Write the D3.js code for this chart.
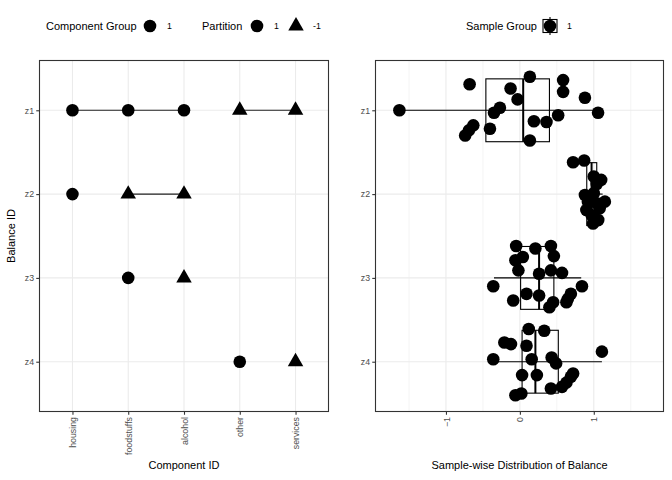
<!DOCTYPE html>
<html>
<head>
<meta charset="utf-8">
<script src="https://cdn.jsdelivr.net/npm/d3@7"></script>
<style>
  html, body { margin: 0; padding: 0; background: #ffffff; }
  svg { display: block; font-family: "Liberation Sans", Arial, Helvetica, sans-serif; }
</style>
</head>
<body>
<svg id="chart" width="672" height="480"></svg>
<script>
// ---------------- data ----------------
const components = ["housing", "foodstuffs", "alcohol", "other", "services"];
const balances = ["z1", "z2", "z3", "z4"];

// Left panel: partition of components per balance
const partBalance   = ["z1","z1","z1","z1","z1","z2","z2","z2","z3","z3","z4","z4"];
const partComponent = ["housing","foodstuffs","alcohol","other","services",
                       "housing","foodstuffs","alcohol",
                       "foodstuffs","alcohol",
                       "other","services"];
const partSign      = [1,1,1,-1,-1, 1,-1,-1, 1,-1, 1,-1];

// Right panel: sample-wise balance values (value, jitter offset in category units)
const sampleBalance = [
  "z1","z1","z1","z1","z1","z1","z1","z1","z1","z1","z1","z1","z1","z1","z1","z1","z1","z1","z1",
  "z2","z2","z2","z2","z2","z2","z2","z2","z2","z2","z2","z2","z2","z2","z2",
  "z3","z3","z3","z3","z3","z3","z3","z3","z3","z3","z3","z3","z3","z3","z3","z3","z3","z3","z3","z3",
  "z4","z4","z4","z4","z4","z4","z4","z4","z4","z4","z4","z4","z4","z4","z4","z4","z4","z4","z4"
];
const sampleValue = [
  -1.63,-0.68,0.135,0.585,0.585,0.88,-0.126,-0.031,-0.27,-0.35,1.058,0.518,0.19,0.36,-0.63,-0.74,-0.69,-0.405,0.135,
  0.72,0.87,1.00,1.10,1.04,0.88,1.00,1.15,0.90,1.08,0.99,0.97,1.04,0.92,1.06,
  -0.05,0.21,0.42,-0.06,0.04,0.46,-0.02,0.26,0.42,0.57,-0.36,0.84,0.09,0.26,-0.09,0.45,0.40,0.65,0.69,0.63,
  0.12,0.33,-0.21,-0.12,0.09,-0.36,1.11,0.16,0.43,0.49,0.03,0.23,0.69,0.63,0.57,0.42,-0.06,0.02,0.72
];
const sampleJitter = [
  0.00,-0.31,-0.40,-0.36,-0.22,-0.15,-0.26,-0.13,-0.03,0.03,0.03,0.06,0.13,0.14,0.18,0.30,0.24,0.22,0.36,
  -0.38,-0.40,-0.21,-0.17,-0.12,0.01,-0.01,0.09,0.19,0.17,0.35,0.25,0.11,0.09,0.31,
  -0.38,-0.35,-0.38,-0.21,-0.25,-0.26,-0.09,-0.05,-0.09,-0.06,0.10,0.10,0.19,0.21,0.27,0.29,0.35,0.25,0.19,0.29,
  -0.39,-0.37,-0.23,-0.21,-0.19,-0.03,-0.12,-0.03,-0.05,0.02,0.16,0.16,0.18,0.25,0.30,0.32,0.40,0.38,0.14
];

// Box summaries
const boxLow    = [-1.63, 0.80, -0.35, -0.36];
const boxQ1     = [-0.46, 0.905, 0.01, 0.03];
const boxMedian = [0.045, 0.97, 0.26, 0.21];
const boxQ3     = [0.40, 1.04, 0.46, 0.52];
const boxHigh   = [1.06, 1.12, 0.83, 1.11];

const xTicksRight = [-1, 0, 1];
const xMinorRight = [-1.5, -0.5, 0.5, 1.5];

// ---------------- layout ----------------
const svg = d3.select("#chart");
const gridCol = "#EBEBEB", borderCol = "#333333", tickTextCol = "#4D4D4D";
const pTop = 60, pBottom = 412;
const L = {left: 39, right: 329};
const R = {left: 375, right: 664};

const yScale = d3.scalePoint().domain(balances).range([pTop, pBottom]).padding(0.6);
const step = yScale.step();
const xLeft = d3.scalePoint().domain(components).range([L.left, L.right]).padding(0.6);
const xRight = d3.scaleLinear().domain([-1.96, 1.95]).range([R.left, R.right]);

const circleSize = Math.PI * 6.3 * 6.3;
const triSize = 15.5 * 15.5 * Math.sqrt(3) / 4;
const circleSym = d3.symbol().type(d3.symbolCircle).size(circleSize);
const triSym = d3.symbol().type(d3.symbolTriangle).size(triSize);

function panelBg(P) {
  svg.append("rect").attr("x", P.left).attr("y", pTop)
    .attr("width", P.right - P.left).attr("height", pBottom - pTop).attr("fill", "#fff");
}
function panelBorder(P) {
  svg.append("rect").attr("x", P.left + 0.5).attr("y", pTop + 0.5)
    .attr("width", P.right - P.left - 1).attr("height", pBottom - pTop - 1)
    .attr("fill", "none").attr("stroke", borderCol).attr("stroke-width", 1.1);
}

// ---------- left panel ----------
panelBg(L);
const gl = svg.append("g");
components.forEach(c => {
  gl.append("line").attr("x1", xLeft(c)).attr("x2", xLeft(c)).attr("y1", pTop).attr("y2", pBottom)
    .attr("stroke", gridCol).attr("stroke-width", 1.1);
});
balances.forEach(b => {
  gl.append("line").attr("x1", L.left).attr("x2", L.right).attr("y1", yScale(b)).attr("y2", yScale(b))
    .attr("stroke", gridCol).attr("stroke-width", 1.1);
});

const partData = partBalance.map((b, i) => ({b, c: partComponent[i], s: partSign[i]}));
balances.forEach(b => {
  [1, -1].forEach(s => {
    const rows = partData.filter(d => d.b === b && d.s === s);
    if (rows.length > 1) {
      const xs = rows.map(d => xLeft(d.c));
      gl.append("line").attr("x1", d3.min(xs)).attr("x2", d3.max(xs))
        .attr("y1", yScale(b)).attr("y2", yScale(b))
        .attr("stroke", "#222").attr("stroke-width", 1.1);
    }
  });
});
gl.selectAll("path.pt").data(partData).join("path")
  .attr("class", "pt")
  .attr("transform", d => `translate(${xLeft(d.c)},${yScale(d.b)})`)
  .attr("d", d => d.s === 1 ? circleSym() : triSym())
  .attr("fill", "#000");
panelBorder(L);

const axL = svg.append("g").attr("transform", `translate(${L.left},0)`)
  .call(d3.axisLeft(yScale).tickSize(2.75).tickPadding(2.2));
const axB = svg.append("g").attr("transform", `translate(0,${pBottom})`)
  .call(d3.axisBottom(xLeft).tickSize(2.75).tickPadding(2.2));
axB.selectAll("text").attr("transform", "rotate(-90)")
  .attr("text-anchor", "end").attr("x", -5).attr("y", 0).attr("dy", "0.35em");

// ---------- right panel ----------
panelBg(R);
const gr = svg.append("g");
xMinorRight.forEach(v => {
  gr.append("line").attr("x1", xRight(v)).attr("x2", xRight(v)).attr("y1", pTop).attr("y2", pBottom)
    .attr("stroke", gridCol).attr("stroke-width", 0.55);
});
xTicksRight.forEach(v => {
  gr.append("line").attr("x1", xRight(v)).attr("x2", xRight(v)).attr("y1", pTop).attr("y2", pBottom)
    .attr("stroke", gridCol).attr("stroke-width", 1.1);
});
balances.forEach(b => {
  gr.append("line").attr("x1", R.left).attr("x2", R.right).attr("y1", yScale(b)).attr("y2", yScale(b))
    .attr("stroke", gridCol).attr("stroke-width", 1.1);
});

const half = step * 0.375;
balances.forEach((b, i) => {
  const yc = yScale(b);
  gr.append("line").attr("x1", xRight(boxLow[i])).attr("x2", xRight(boxHigh[i]))
    .attr("y1", yc).attr("y2", yc).attr("stroke", "#000").attr("stroke-width", 1.1);
  gr.append("rect").attr("x", xRight(boxQ1[i])).attr("y", yc - half)
    .attr("width", xRight(boxQ3[i]) - xRight(boxQ1[i])).attr("height", 2 * half)
    .attr("fill", "none").attr("stroke", "#000").attr("stroke-width", 1.1);
  gr.append("line").attr("x1", xRight(boxMedian[i])).attr("x2", xRight(boxMedian[i]))
    .attr("y1", yc - half).attr("y2", yc + half).attr("stroke", "#000").attr("stroke-width", 2);
});

const sampleData = sampleBalance.map((b, i) => ({b, v: sampleValue[i], j: sampleJitter[i]}));
gr.selectAll("circle.s").data(sampleData).join("circle")
  .attr("class", "s")
  .attr("cx", d => xRight(d.v))
  .attr("cy", d => yScale(d.b) + d.j * step)
  .attr("r", 6.3)
  .attr("fill", "#000");
panelBorder(R);

const axR = svg.append("g").attr("transform", `translate(${R.left},0)`)
  .call(d3.axisLeft(yScale).tickSize(2.75).tickPadding(2.2));
const axRB = svg.append("g").attr("transform", `translate(0,${pBottom})`)
  .call(d3.axisBottom(xRight).tickValues(xTicksRight).tickFormat(d3.format("d")).tickSize(2.75).tickPadding(2.2));
axRB.selectAll("text").attr("transform", "rotate(-90)")
  .attr("text-anchor", "end").attr("x", -5).attr("y", 0).attr("dy", "0.35em");

[axL, axB, axR, axRB].forEach(a => {
  a.select(".domain").remove();
  a.selectAll(".tick line").attr("stroke", borderCol).attr("stroke-width", 1.1);
  a.selectAll(".tick text").attr("fill", tickTextCol).attr("font-size", "8.8px")
    .attr("font-family", "'Liberation Sans', Arial, sans-serif");
});

svg.append("text").attr("x", (L.left + L.right) / 2).attr("y", 469)
  .attr("text-anchor", "middle").attr("font-size", "11px").text("Component ID");
svg.append("text").attr("x", (R.left + R.right) / 2).attr("y", 469)
  .attr("text-anchor", "middle").attr("font-size", "11px").text("Sample-wise Distribution of Balance");
svg.append("text").attr("transform", `translate(15,${(pTop + pBottom) / 2}) rotate(-90)`)
  .attr("text-anchor", "middle").attr("font-size", "11px").text("Balance ID");

// ---------- legends ----------
const ly = 26;
const lg = svg.append("g");
lg.append("text").attr("x", 46).attr("y", ly + 4).attr("font-size", "11px").text("Component Group");
lg.append("path").attr("transform", `translate(150,${ly})`).attr("d", circleSym()).attr("fill", "#000");
lg.append("text").attr("x", 167).attr("y", ly + 3.2).attr("font-size", "8.8px").text("1");

lg.append("text").attr("x", 202).attr("y", ly + 4).attr("font-size", "11px").text("Partition");
lg.append("path").attr("transform", `translate(257,${ly})`).attr("d", circleSym()).attr("fill", "#000");
lg.append("text").attr("x", 274).attr("y", ly + 3.2).attr("font-size", "8.8px").text("1");
lg.append("path").attr("transform", `translate(296,${ly})`).attr("d", triSym()).attr("fill", "#000");
lg.append("text").attr("x", 313).attr("y", ly + 3.2).attr("font-size", "8.8px").text("-1");

lg.append("text").attr("x", 466).attr("y", ly + 4).attr("font-size", "11px").text("Sample Group");
lg.append("line").attr("x1", 550).attr("x2", 550).attr("y1", ly - 9).attr("y2", ly + 9)
  .attr("stroke", "#000").attr("stroke-width", 1.1);
lg.append("rect").attr("x", 543).attr("y", ly - 6.5).attr("width", 14).attr("height", 13)
  .attr("fill", "none").attr("stroke", "#000").attr("stroke-width", 1.1);
lg.append("circle").attr("cx", 550).attr("cy", ly).attr("r", 6.3).attr("fill", "#000");
lg.append("text").attr("x", 567).attr("y", ly + 3.2).attr("font-size", "8.8px").text("1");
</script>
</body>
</html>
